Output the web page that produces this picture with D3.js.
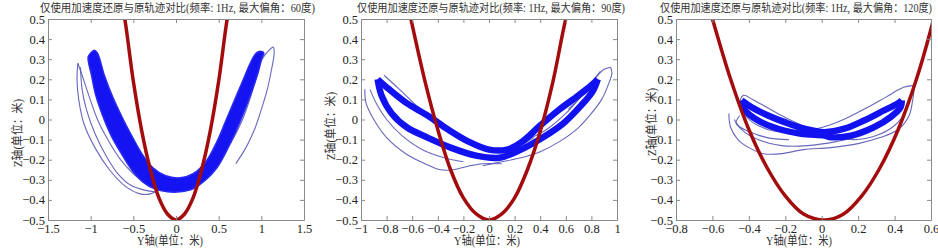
<!DOCTYPE html>
<html><head><meta charset="utf-8">
<script src="https://cdn.jsdelivr.net/npm/d3@7/dist/d3.min.js"></script>
<style>body{margin:0;background:#fff}svg{display:block}</style>
</head><body><svg id="c" width="938" height="248"></svg>
<script>
// ---------- data ----------
const titles = [
  "仅使用加速度还原与原轨迹对比(频率: 1Hz, 最大偏角：60度)",
  "仅使用加速度还原与原轨迹对比(频率: 1Hz, 最大偏角：90度)",
  "仅使用加速度还原与原轨迹对比(频率: 1Hz, 最大偏角：120度)"
];
const xLabel = "Y轴(单位：米)";
const yLabel = "Z轴(单位：米)";
const xDomains = [[-1.5, 1.5], [-1, 1], [-0.8, 0.6]];
const yDomain = [-0.5, 0.5];
const xTicks1 = [-1.5, -1, -0.5, 0, 0.5, 1, 1.5];
const xTicks2 = [-1, -0.8, -0.6, -0.4, -0.2, 0, 0.2, 0.4, 0.6, 0.8, 1];
const xTicks3 = [-0.8, -0.6, -0.4, -0.2, 0, 0.2, 0.4, 0.6];
const yTicks = [-0.5, -0.4, -0.3, -0.2, -0.1, 0, 0.1, 0.2, 0.3, 0.4, 0.5];

// original trajectory (red), [y, z]
const red1 = [[-0.63,0.56],[-0.6,0.5],[-0.5,0.19],[-0.4,-0.06],[-0.3,-0.25],[-0.2,-0.39],[-0.1,-0.47],[0,-0.5],[0.1,-0.47],[0.2,-0.39],[0.3,-0.25],[0.4,-0.06],[0.5,0.19],[0.6,0.5],[0.63,0.56]];
const red2 = [[-0.63,0.56],[-0.61,0.5],[-0.5,0.19],[-0.4,-0.05],[-0.3,-0.25],[-0.2,-0.39],[-0.1,-0.47],[0,-0.5],[0.1,-0.47],[0.2,-0.39],[0.3,-0.25],[0.4,-0.06],[0.5,0.19],[0.6,0.5],[0.63,0.56]];
const red3 = [[-0.62,0.56],[-0.6,0.5],[-0.5,0.2],[-0.4,-0.05],[-0.3,-0.24],[-0.2,-0.38],[-0.1,-0.47],[0.02,-0.5],[0.12,-0.47],[0.22,-0.38],[0.32,-0.24],[0.42,-0.05],[0.52,0.2],[0.6,0.45],[0.63,0.56]];

// dense reconstructed band (blue)
const band1 = [[-1.03,0.31],[-0.99,0.22],[-0.94,0.12],[-0.86,0.02],[-0.76,-0.08],[-0.64,-0.17],[-0.52,-0.25],[-0.39,-0.31],[-0.25,-0.345],[-0.1,-0.36],[0.05,-0.36],[0.2,-0.345],[0.35,-0.3],[0.48,-0.24],[0.6,-0.15],[0.7,-0.06],[0.79,0.03],[0.88,0.13],[0.96,0.23],[1.01,0.31],[1.03,0.33],
  [0.99,0.34],[0.94,0.33],[0.87,0.28],[0.78,0.19],[0.68,0.09],[0.58,-0.01],[0.48,-0.11],[0.35,-0.21],[0.2,-0.27],[0.05,-0.29],[-0.12,-0.28],[-0.27,-0.24],[-0.4,-0.17],[-0.52,-0.08],[-0.63,0.01],[-0.74,0.11],[-0.84,0.22],[-0.92,0.33],[-0.96,0.345],[-1.0,0.33]];
const band2U = [[-0.87,0.2],[-0.78,0.15],[-0.64,0.08],[-0.48,0.02],[-0.32,-0.05],[-0.16,-0.11],[0,-0.15],[0.14,-0.15],[0.26,-0.11],[0.4,-0.03],[0.55,0.05],[0.7,0.12],[0.8,0.17],[0.85,0.2]];
const band2L = [[-0.87,0.2],[-0.84,0.12],[-0.76,0.03],[-0.64,-0.04],[-0.48,-0.09],[-0.3,-0.14],[-0.1,-0.18],[0.08,-0.19],[0.25,-0.15],[0.42,-0.09],[0.58,-0.02],[0.72,0.07],[0.81,0.14],[0.85,0.2]];
const band3U = [[-0.44,0.095],[-0.385,0.061],[-0.295,0.02],[-0.204,-0.013],[-0.095,-0.046],[0.015,-0.063],[0.124,-0.046],[0.233,-0.005],[0.342,0.045],[0.415,0.078],[0.44,0.095]];
const band3L = [[-0.44,0.095],[-0.42,0.045],[-0.35,-0.005],[-0.24,-0.046],[-0.113,-0.071],[0.015,-0.08],[0.05,-0.088],[0.16,-0.08],[0.287,-0.038],[0.378,0.012],[0.433,0.061],[0.44,0.095]];

// sparse reconstructed loops (thin)
const loops1 = [
  [[-1.15,0.28],[-1.16,0.2],[-1.14,0.1],[-1.08,-0.02],[-0.95,-0.14],[-0.78,-0.25],[-0.6,-0.33],[-0.42,-0.37],[-0.3,-0.37],[-0.2,-0.35],[-0.1,-0.33]],
  [[-1.15,0.28],[-1.1,0.22],[-1.03,0.13],[-0.92,0.0],[-0.8,-0.1],[-0.65,-0.2],[-0.5,-0.27],[-0.35,-0.32]],
  [[-1.12,0.26],[-1.1,0.15],[-1.05,0.05],[-0.95,-0.07],[-0.82,-0.18],[-0.68,-0.27],[-0.52,-0.33],[-0.38,-0.35],[-0.25,-0.36]],
  [[0.1,-0.3],[0.25,-0.26],[0.4,-0.18],[0.55,-0.07],[0.7,0.05],[0.85,0.17],[0.98,0.28],[1.08,0.34],[1.14,0.36],[1.15,0.33],[1.12,0.25],[1.07,0.15],[1.0,0.05],[0.92,-0.05],[0.82,-0.14],[0.7,-0.22]],
  [[1.02,0.34],[0.96,0.24],[0.88,0.12],[0.78,0.0],[0.65,-0.11],[0.5,-0.2],[0.35,-0.27]]
];
const loops2 = [
  [[-0.97,0.15],[-0.96,0.08],[-0.9,0.0],[-0.8,-0.09],[-0.65,-0.17],[-0.5,-0.22],[-0.38,-0.25],[-0.28,-0.25],[-0.15,-0.23],[-0.05,-0.22],[0.1,-0.22]],
  [[-0.93,0.15],[-0.88,0.08],[-0.8,0.0],[-0.68,-0.08],[-0.52,-0.15],[-0.35,-0.19],[-0.2,-0.21]],
  [[-0.82,0.22],[-0.7,0.15],[-0.55,0.06],[-0.4,-0.02],[-0.2,-0.11],[0,-0.15],[0.2,-0.14],[0.35,-0.09]],
  [[0.95,0.26],[0.96,0.23],[0.93,0.17],[0.88,0.1],[0.8,0.03],[0.7,-0.04],[0.55,-0.11],[0.4,-0.16],[0.25,-0.19],[0.1,-0.21],[-0.05,-0.23]],
  [[0.95,0.26],[0.9,0.25],[0.85,0.22],[0.78,0.16],[0.7,0.1],[0.6,0.03],[0.45,-0.05],[0.3,-0.1],[0.15,-0.14],[0,-0.16]],
  [[0.87,0.24],[0.82,0.2],[0.74,0.13],[0.62,0.05]]
];
const loops3 = [
  [[-0.51,0.03],[-0.5,-0.04],[-0.46,-0.1],[-0.4,-0.14],[-0.32,-0.17],[-0.22,-0.17],[-0.1,-0.15],[0.05,-0.14],[0.2,-0.12],[0.32,-0.09],[0.42,-0.05],[0.48,0.02],[0.5,0.1],[0.51,0.17]],
  [[0.51,0.17],[0.45,0.16],[0.35,0.11],[0.25,0.06],[0.12,0.0],[0,-0.04],[-0.12,-0.06],[-0.25,-0.06],[-0.35,-0.03],[-0.42,0.02],[-0.45,0.08],[-0.43,0.12],[-0.38,0.1],[-0.3,0.06],[-0.2,0.01],[-0.08,-0.04],[0.05,-0.08],[0.18,-0.1],[0.3,-0.08],[0.4,-0.03],[0.46,0.04],[0.48,0.1]],
  [[-0.48,0.0],[-0.44,-0.05],[-0.35,-0.1],[-0.22,-0.13],[-0.08,-0.13],[0.08,-0.11],[0.22,-0.08],[0.35,-0.02],[0.44,0.05]],
  [[-0.45,0.02],[-0.47,-0.02],[-0.4,-0.06],[-0.3,-0.09],[-0.18,-0.1]]
];

// ---------- layout ----------
const panels = [
  {x0: 48, x1: 304, title: titles[0], tx0: 40, tx1: 315, xd: xDomains[0], xt: xTicks1, red: red1, bandPoly: band1, bands: [], loops: loops1, xl: 170, yl: [22, 133]},
  {x0: 361, x1: 617, title: titles[1], tx0: 357, tx1: 625, xd: xDomains[1], xt: xTicks2, red: red2, bandPoly: null, bands: [band2U, band2L], loops: loops2, xl: 487, yl: [335, 126]},
  {x0: 676, x1: 931, title: titles[2], tx0: 660, tx1: 932, xd: xDomains[2], xt: xTicks3, red: red3, bandPoly: null, bands: [band3U, band3L], loops: loops3, xl: 799, yl: [656, 122]}
];
const Y0 = 19, Y1 = 220;
const svg = d3.select("#c");
const serif = "'Liberation Serif','Noto Sans CJK SC',serif";
const fmt = v => (v === 0 ? "0" : String(v).replace("-", "\u2212"));

panels.forEach((p, i) => {
  const x = d3.scaleLinear().domain(p.xd).range([p.x0, p.x1]);
  const y = d3.scaleLinear().domain(yDomain).range([Y1, Y0]);
  const g = svg.append("g");
  const cid = "clip" + i;
  svg.append("clipPath").attr("id", cid).append("rect")
    .attr("x", p.x0).attr("y", Y0).attr("width", p.x1 - p.x0).attr("height", Y1 - Y0);
  const plot = g.append("g").attr("clip-path", `url(#${cid})`);
  const line = d3.line().x(d => x(d[0])).y(d => y(d[1])).curve(d3.curveCatmullRom.alpha(0.5));

  p.loops.forEach(l => plot.append("path").attr("d", line(l))
    .attr("fill", "none").attr("stroke", "#5656b6").attr("stroke-width", 1.1).attr("stroke-opacity", 0.9));
  if (p.bandPoly) {
    plot.append("path").attr("d", d3.line().x(d => x(d[0])).y(d => y(d[1])).curve(d3.curveCatmullRomClosed.alpha(0.5))(p.bandPoly))
      .attr("fill", "#1414f2").attr("stroke", "#2a2af0").attr("stroke-width", 1.5);
  }
  p.bands.forEach(b => plot.append("path").attr("d", line(b))
    .attr("fill", "none").attr("stroke", "#1212f0").attr("stroke-width", 6.5).attr("stroke-linejoin", "round"));
  plot.append("path").attr("d", line(p.red))
    .attr("fill", "none").attr("stroke", "#a30c0c").attr("stroke-width", 3.5);

  // axes (inward ticks, MATLAB box)
  const axB = g.append("g").attr("transform", `translate(0,${Y1})`)
    .call(d3.axisBottom(x).tickValues(p.xt).tickSize(-4).tickSizeOuter(0).tickPadding(4).tickFormat(fmt));
  const axT = g.append("g").attr("transform", `translate(0,${Y0})`)
    .call(d3.axisTop(x).tickValues(p.xt).tickSize(-4).tickSizeOuter(0).tickFormat(""));
  const axL = g.append("g").attr("transform", `translate(${p.x0},0)`)
    .call(d3.axisLeft(y).tickValues(yTicks).tickSize(-4).tickSizeOuter(0).tickPadding(3).tickFormat(fmt));
  const axR = g.append("g").attr("transform", `translate(${p.x1},0)`)
    .call(d3.axisRight(y).tickValues(yTicks).tickSize(-4).tickSizeOuter(0).tickFormat(""));
  [axB, axT, axL, axR].forEach(a => {
    a.selectAll("path,line").attr("stroke", "#8a8a8a");
    a.selectAll("text").attr("fill", "#222").style("font-family", serif).style("font-size", "12.5px");
  });

  g.append("text").attr("x", (p.tx0 + p.tx1) / 2).attr("y", 12)
    .attr("text-anchor", "middle").attr("textLength", p.tx1 - p.tx0).attr("lengthAdjust", "spacingAndGlyphs")
    .style("font-family", serif).style("font-size", "11.5px").attr("fill", "#333").text(p.title);
  g.append("text").attr("x", p.xl).attr("y", 245)
    .attr("text-anchor", "middle").attr("textLength", 66).attr("lengthAdjust", "spacingAndGlyphs")
    .style("font-family", serif).style("font-size", "12.5px").attr("fill", "#333").text(xLabel);
  g.append("text").attr("transform", `translate(${p.yl[0]},${p.yl[1]}) rotate(-90)`)
    .attr("text-anchor", "middle").attr("textLength", 68).attr("lengthAdjust", "spacingAndGlyphs")
    .style("font-family", serif).style("font-size", "12.5px").attr("fill", "#333").text(yLabel);
});
</script></body></html>
